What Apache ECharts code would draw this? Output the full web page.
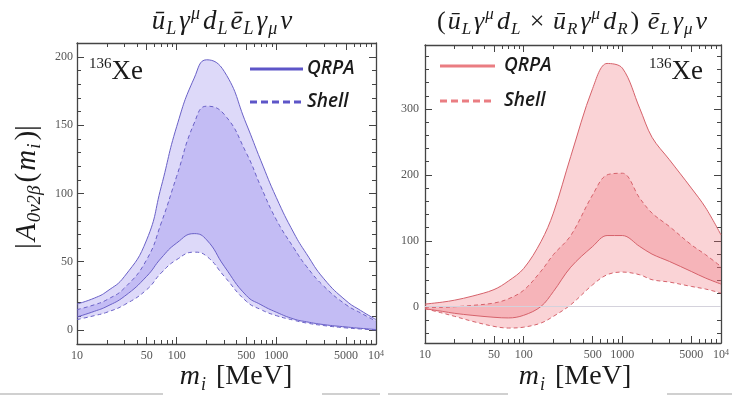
<!DOCTYPE html>
<html><head><meta charset="utf-8">
<script src="https://cdn.jsdelivr.net/npm/echarts@6/dist/echarts.min.js"></script>
<style>html,body{margin:0;padding:0;background:#fff}#c{width:732px;height:396px}</style>
</head><body><div id="c"></div>
<script>
// ---- data ----
const masses = [10,15,20,30,50,70,100,150,200,300,500,700,1000,1500,2000,3000,5000,7000,10000];
const xTickLabels = [10,50,100,500,1000,5000,10000];
const xMinorTicks = [10,20,30,40,50,60,70,80,90,100,200,300,400,500,600,700,800,900,1000,2000,3000,4000,5000,6000,7000,8000,9000,10000];
const leftYTickLabels = [0,50,100,150,200];
const leftYMinorTicks = [0,10,20,30,40,50,60,70,80,90,100,110,120,130,140,150,160,170,180,190,200,210];
const rightYTickLabels = [0,100,200,300];
const rightYMinorTicks = [-40,-20,0,20,40,60,80,100,120,140,160,180,200,220,240,260,280,300,320,340,360,380];

// left panel: ū_L γ^μ d_L ē_L γ_μ ν
const leftQrpaUpper  = [19,23.4,28.3,39.3,66,105,149,184.6,198,189.5,151,124,97,71,56,37.5,21.5,14.3,7.6];
const leftQrpaLower  = [9.5,13.7,17.3,24.7,39.3,52.7,63.7,70.6,66,46.7,25.2,18.5,13,8,6,3.9,2.2,1.2,0.3];
const leftShellUpper = [14.9,18.5,22.2,30.8,51.5,78.4,112.6,151.6,164,158,129.7,105,80.8,60,46.7,32,18.5,12.5,6.4];
const leftShellLower = [7.6,10.5,13,18.5,29.5,41.8,51.5,57,54,39.3,21,14.9,10.5,7.1,5.1,3.2,1.5,0.7,0];

// right panel: (ū_L γ^μ d_L × ū_R γ^μ d_R) ē_L γ_μ ν
const rightQrpaUpper  = [4,7,10,16,26,39,58,99,142,228,331,369,362,301,257,223,180,150,109];
const rightQrpaLower  = [-3,-7,-10,-13,-16,-17,-13,0.5,23,60,91.4,108,108,91.4,79.8,68.7,53.5,43.4,34.4];
const rightShellUpper = [-1,-1,0,2,5.6,12,25,54,79,108,169.7,200,202.5,164.7,142,121.7,94,78.8,61];
const rightShellLower = [-3,-9.6,-14.6,-22,-29.8,-32.3,-31,-24.7,-14.6,3,33.3,48.5,52.6,48.5,41,37.4,30.8,26.8,20.7];

// ---- chart ----
const serif = 'Liberation Serif';
const axisColor = '#444';
const labelColor = '#555';

function xAxesFor(gi) {
  const lg = v => Math.log10(v);
  const deco = {type:'value', gridIndex:gi, min:1, max:4, splitLine:{show:false}};
  return [
    {type:'log', logBase:10, gridIndex:gi, min:10, max:10000, show:false},
    Object.assign({}, deco, {position:'bottom',
      axisLine:{show:true, onZero:false, lineStyle:{color:axisColor, width:1.3}},
      axisTick:{show:true, inside:true, length:7, customValues:xTickLabels.map(lg), lineStyle:{color:axisColor}},
      axisLabel:{show:true, customValues:xTickLabels.map(lg), margin:6, fontFamily:serif, fontSize:12, color:labelColor,
        formatter: v => { const n = Math.round(Math.pow(10, v)); return n === 10000 ? '10{sup|4}' : String(n); },
        rich:{sup:{fontFamily:serif, fontSize:8, color:labelColor, verticalAlign:'top', lineHeight:10}}}}),
    Object.assign({}, deco, {position:'bottom', axisLine:{show:false, onZero:false},
      axisTick:{show:true, inside:true, length:4, customValues:xMinorTicks.map(lg), lineStyle:{color:axisColor}},
      axisLabel:{show:false}}),
    Object.assign({}, deco, {position:'top',
      axisLine:{show:true, onZero:false, lineStyle:{color:axisColor, width:1.3}},
      axisTick:{show:true, inside:true, length:7, customValues:xTickLabels.map(lg), lineStyle:{color:axisColor}},
      axisLabel:{show:false}}),
    Object.assign({}, deco, {position:'top', axisLine:{show:false, onZero:false},
      axisTick:{show:true, inside:true, length:4, customValues:xMinorTicks.map(lg), lineStyle:{color:axisColor}},
      axisLabel:{show:false}})
  ];
}
function yAxesFor(gi, min, max, majors, minors, labelMargin) {
  const base = {type:'value', gridIndex:gi, min:min, max:max, splitLine:{show:false}};
  return [
    Object.assign({}, base, {position:'left',
      axisLine:{show:true, onZero:false, lineStyle:{color:axisColor, width:1.3}},
      axisTick:{show:true, inside:true, length:7, customValues:majors, lineStyle:{color:axisColor}},
      axisLabel:{show:true, customValues:majors, margin:labelMargin, fontFamily:serif, fontSize:12, color:labelColor}}),
    Object.assign({}, base, {position:'left', axisLine:{show:false, onZero:false},
      axisTick:{show:true, inside:true, length:4, customValues:minors, lineStyle:{color:axisColor}}, axisLabel:{show:false}}),
    Object.assign({}, base, {position:'right',
      axisLine:{show:true, onZero:false, lineStyle:{color:axisColor, width:1.3}},
      axisTick:{show:true, inside:true, length:7, customValues:majors, lineStyle:{color:axisColor}}, axisLabel:{show:false}}),
    Object.assign({}, base, {position:'right', axisLine:{show:false, onZero:false},
      axisTick:{show:true, inside:true, length:4, customValues:minors, lineStyle:{color:axisColor}}, axisLabel:{show:false}})
  ];
}

function panelSeries(xi, yi, qu, ql, su, sl, fill, lineColor, tag, smooth, zeroLine) {
  const pts = a => masses.map((m, i) => [m, a[i]]);
  // stacked series: value first so the stack runs along y (encode maps columns back)
  const spts = a => masses.map((m, i) => [a[i], m]);
  const sdiff = (a, b) => masses.map((m, i) => [a[i] - b[i], m]);
  const c = {type:'line', xAxisIndex:xi, yAxisIndex:yi, symbol:'none', smooth:smooth, silent:true, animation:false};
  const st = {encode:{x:1, y:0}, stackStrategy:'all'};
  const hidden = {width:0, opacity:0};
  const s = [
    Object.assign({}, c, st, {name:tag+'sb', stack:tag+'S', data:spts(sl), lineStyle:hidden, z:1}),
    Object.assign({}, c, st, {name:tag+'st', stack:tag+'S', data:sdiff(su, sl), lineStyle:hidden, areaStyle:{color:fill, opacity:1}, z:1}),
    Object.assign({}, c, st, {name:tag+'qb', stack:tag+'Q', data:spts(ql), lineStyle:hidden, z:1}),
    Object.assign({}, c, st, {name:tag+'qt', stack:tag+'Q', data:sdiff(qu, ql), lineStyle:hidden, areaStyle:{color:fill, opacity:1}, z:1}),
    Object.assign({}, c, {name:tag+'QRPA up', data:pts(qu), lineStyle:{color:lineColor, width:1}, z:3}),
    Object.assign({}, c, {name:tag+'QRPA low', data:pts(ql), lineStyle:{color:lineColor, width:1}, z:3}),
    Object.assign({}, c, {name:tag+'Shell up', data:pts(su), lineStyle:{color:lineColor, width:1, type:[4,3]}, z:3}),
    Object.assign({}, c, {name:tag+'Shell low', data:pts(sl), lineStyle:{color:lineColor, width:1, type:[4,3]}, z:3})
  ];
  if (zeroLine) {
    s[4].markLine = {silent:true, symbol:'none', label:{show:false}, animation:false,
      lineStyle:{color:'#d4d2dc', width:1, type:'solid'}, data:[{yAxis:0}]};
  }
  return s;
}

function mathRich(size) {
  const sm = Math.round(size * 0.66);
  return {
    m:{fontFamily:serif, fontStyle:'italic', fontSize:size, fill:'#1a1a1a', lineHeight:size + 6, padding:[0,1,0,1]},
    r:{fontFamily:serif, fontSize:size, fill:'#1a1a1a', lineHeight:size + 6, padding:[0,1,0,1]},
    b:{fontFamily:serif, fontStyle:'italic', fontSize:sm, fill:'#1a1a1a', verticalAlign:'bottom', lineHeight:sm + 3, padding:[0,2,0,0]},
    p:{fontFamily:serif, fontStyle:'italic', fontSize:sm, fill:'#1a1a1a', verticalAlign:'top', lineHeight:sm + 3, padding:[0,2,0,0]}
  };
}
function mathText(x, y, text, size, rotation) {
  return {type:'text', x:x, y:y, rotation:rotation || 0, silent:true,
    style:{text:text, align:'center', verticalAlign:'middle', rich:mathRich(size)}};
}
function legendLine(x1, x2, y, color, dashed) {
  return {type:'line', silent:true, shape:{x1:x1, y1:y, x2:x2, y2:y},
    style:{stroke:color, lineWidth:3, lineDash: dashed ? [7,4] : null}};
}
function legendText(x, y, text) {
  return {type:'text', x:x, y:y, silent:true,
    style:{text:text, fontFamily:'Open Sans', fontStyle:'italic', fontWeight:600, fontSize:19, fill:'#1a1a1a', verticalAlign:'middle'}};
}
function xeLabel(x, y) {
  return {type:'text', x:x, y:y, silent:true,
    style:{text:'{s|136}{x|Xe}', verticalAlign:'middle',
      rich:{s:{fontFamily:serif, fontSize:15, fill:'#1a1a1a', verticalAlign:'top', lineHeight:15},
            x:{fontFamily:serif, fontSize:27, fill:'#1a1a1a', lineHeight:30}}}};
}

const chart = echarts.init(document.getElementById('c'), null, {renderer:'canvas'});
const leftColor = '#6a61c8', rightColor = '#d6626b';
chart.setOption({
  animation:false,
  backgroundColor:'#fff',
  grid:[
    {left:77, top:43, width:299, height:301, containLabel:false},
    {left:425, top:45, width:298, height:298, containLabel:false}
  ],
  xAxis: xAxesFor(0).concat(xAxesFor(1)),
  yAxis: yAxesFor(0, -10.3, 210.3, leftYTickLabels, leftYMinorTicks, 4)
    .concat(yAxesFor(1, -55, 397, rightYTickLabels, rightYMinorTicks, 6)),
  series: panelSeries(0, 0, leftQrpaUpper, leftQrpaLower, leftShellUpper, leftShellLower, 'rgba(120,105,230,0.25)', leftColor, 'L', 0.5, false)
    .concat(panelSeries(5, 4, rightQrpaUpper, rightQrpaLower, rightShellUpper, rightShellLower, 'rgba(240,110,120,0.3)', rightColor, 'R', 0.35, true)),
  graphic:[
    mathText(222, 22, '{m|ū}{b|L}{m|γ}{p|μ}{m|d}{b|L}{m|ē}{b|L}{m|γ}{b|μ}{m|ν}', 27),
    mathText(572, 22, '{r|(}{m|ū}{b|L}{m|γ}{p|μ}{m|d}{b|L}{r| × }{m|ū}{b|R}{m|γ}{p|μ}{m|d}{b|R}{r|) }{m|ē}{b|L}{m|γ}{b|μ}{m|ν}', 26),
    mathText(27, 187, '{r||}{m|A}{b|0ν2β}{r|(}{m|m}{b|i}{r|)|}', 29, Math.PI / 2),
    mathText(236, 377, '{m|m}{b|i}{r| [MeV]}', 28),
    mathText(575, 377, '{m|m}{b|i}{r| [MeV]}', 28),
    xeLabel(89, 72),
    xeLabel(649, 72),
    legendLine(250, 303, 69, '#5d55c8', false),
    legendLine(250, 303, 102, '#5d55c8', true),
    legendText(307, 69, 'QRPA'),
    legendText(307, 102, 'Shell'),
    legendLine(440, 495, 66, '#ea7d82', false),
    legendLine(440, 495, 101, '#ea7d82', true),
    legendText(504, 66, 'QRPA'),
    legendText(504, 101, 'Shell'),
    {type:'line', silent:true, shape:{x1:0, y1:394, x2:163, y2:394}, style:{stroke:'#d0d0d0', lineWidth:2}},
    {type:'line', silent:true, shape:{x1:322, y1:394, x2:380, y2:394}, style:{stroke:'#d0d0d0', lineWidth:2}},
    {type:'line', silent:true, shape:{x1:388, y1:394, x2:508, y2:394}, style:{stroke:'#d0d0d0', lineWidth:2}},
    {type:'line', silent:true, shape:{x1:667, y1:394, x2:732, y2:394}, style:{stroke:'#d0d0d0', lineWidth:2}}
  ]
});
</script>
</body></html>
